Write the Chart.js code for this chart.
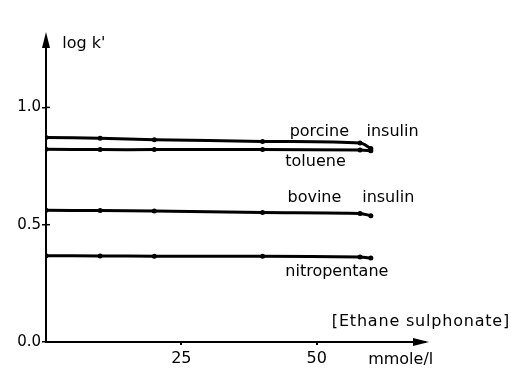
<!DOCTYPE html>
<html>
<head>
<meta charset="utf-8">
<script src="https://cdn.jsdelivr.net/npm/chart.js@4/dist/chart.umd.min.js"></script>
<style>
    body { margin: 0; background: #fff; }
    #wrap { width: 511px; height: 369px; position: relative; }
</style>
</head>
<body>
<div id="wrap"><canvas id="chart"></canvas></div>
<script>
// concentration of ethane sulphonate (mmole/l)
const concentrations = [0, 10, 20, 40, 58, 60];
const seriesNames = ['porcine insulin', 'toluene', 'bovine insulin', 'nitropentane'];
const porcineInsulin = [0.872, 0.868, 0.862, 0.855, 0.848, 0.825];
const toluene = [0.822, 0.820, 0.820, 0.820, 0.818, 0.815];
const bovineInsulin = [0.562, 0.560, 0.558, 0.552, 0.548, 0.538];
const nitropentane = [0.368, 0.367, 0.366, 0.365, 0.362, 0.358];
const xTicks = [25, 50];
const yTicks = [0, 0.5, 1.0];

const FONT = 'DejaVu Sans';

function toPoints(values) {
    return concentrations.map((c, i) => ({ x: c, y: values[i] }));
}

function makeSet(label, values) {
    return {
        label: label,
        data: toPoints(values),
        borderColor: '#000',
        backgroundColor: '#000',
        borderWidth: 3,
        pointRadius: 1,
        pointHoverRadius: 1,
        tension: 0.3
    };
}

// text written next to the curves and axes, in data units
const notes = [
    { text: "log k'", x: 3.0, y: 1.27 },
    { text: 'porcine', x: 45.0, y: 0.894 },
    { text: 'insulin', x: 59.2, y: 0.894 },
    { text: 'toluene', x: 44.2, y: 0.766 },
    { text: 'bovine', x: 44.6, y: 0.613 },
    { text: 'insulin', x: 58.4, y: 0.613 },
    { text: 'nitropentane', x: 44.2, y: 0.298 },
    { text: '[Ethane sulphonate]', x: 52.8, y: 0.085, spacing: '0.8px' },
    { text: 'mmole/l', x: 59.5, y: -0.077 }
];

const decorations = {
    id: 'decorations',
    afterDraw(chart) {
        const ctx = chart.ctx;
        const area = chart.chartArea;
        const xs = chart.scales.x;
        const ys = chart.scales.y;
        ctx.save();
        ctx.fillStyle = '#000';

        // arrow heads
        ctx.beginPath();
        ctx.moveTo(area.left, area.top - 5);
        ctx.lineTo(area.left - 4, area.top + 11);
        ctx.lineTo(area.left + 4, area.top + 11);
        ctx.closePath();
        ctx.fill();

        ctx.beginPath();
        ctx.moveTo(area.right + 4, area.bottom);
        ctx.lineTo(area.right - 12, area.bottom - 4);
        ctx.lineTo(area.right - 12, area.bottom + 4);
        ctx.closePath();
        ctx.fill();

        // small ticks crossing into the plot on the y axis
        ctx.strokeStyle = '#000';
        ctx.lineWidth = 1.5;
        yTicks.slice(1).forEach(v => {
            const py = ys.getPixelForValue(v);
            ctx.beginPath();
            ctx.moveTo(area.left, py);
            ctx.lineTo(area.left + 4, py);
            ctx.stroke();
        });

        ctx.font = '16px "' + FONT + '"';
        ctx.textAlign = 'left';
        ctx.textBaseline = 'middle';
        notes.forEach(n => {
            ctx.letterSpacing = n.spacing || '0px';
            ctx.fillText(n.text, xs.getPixelForValue(n.x), ys.getPixelForValue(n.y));
        });
        ctx.restore();
    }
};

new Chart(document.getElementById('chart'), {
    type: 'line',
    data: {
        datasets: [
            makeSet(seriesNames[0], porcineInsulin),
            makeSet(seriesNames[1], toluene),
            makeSet(seriesNames[2], bovineInsulin),
            makeSet(seriesNames[3], nitropentane)
        ]
    },
    options: {
        responsive: true,
        maintainAspectRatio: false,
        animation: false,
        layout: { padding: { top: 37, right: 86, left: 0, bottom: 0 } },
        plugins: {
            legend: { display: false },
            tooltip: { enabled: false }
        },
        scales: {
            x: {
                type: 'linear',
                min: 0,
                max: 70,
                afterBuildTicks: scale => { scale.ticks = xTicks.map(v => ({ value: v })); },
                afterFit: scale => { scale.height = 27; },
                border: { color: '#000', width: 2 },
                grid: { drawOnChartArea: false, color: '#000', lineWidth: 2, tickLength: 3 },
                ticks: { color: '#000', padding: 4, font: { family: FONT, size: 16 } }
            },
            y: {
                type: 'linear',
                min: 0,
                max: 1.3,
                afterBuildTicks: scale => { scale.ticks = yTicks.map(v => ({ value: v })); },
                afterFit: scale => { scale.width = 46; },
                border: { color: '#000', width: 2 },
                grid: { drawOnChartArea: false, color: '#000', lineWidth: 1.5, tickLength: 4 },
                ticks: {
                    color: '#000',
                    padding: 1,
                    font: { family: FONT, size: 15 },
                    callback: v => v.toFixed(1)
                }
            }
        }
    },
    plugins: [decorations]
});
</script>
</body>
</html>
